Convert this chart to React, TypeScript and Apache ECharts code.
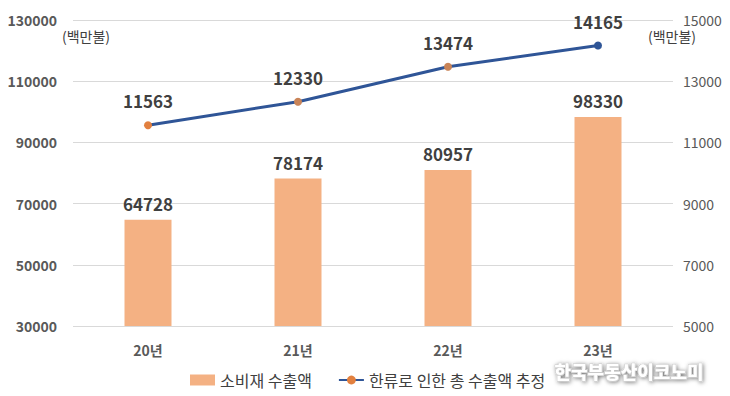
import React, { useEffect, useRef } from "react";
import * as echarts from "echarts";

const categories = ["20년", "21년", "22년", "23년"];
const barValues = [64728, 78174, 80957, 98330];
const lineValues = [11563, 12330, 13474, 14165];
const barName = "소비재 수출액";
const lineName = "한류로 인한 총 수출액 추정";
const unitLabel = "(백만불)";
const watermark = "한국부동산이코노미";

const FONT = "'Noto Sans CJK KR', 'Noto Sans', sans-serif";

export default function App() {
  const ref = useRef<HTMLDivElement>(null);
  useEffect(() => {
    if (!ref.current) return;
    const chart = echarts.init(ref.current, undefined, { renderer: "svg" });
    const markerColors = ["#E2803F", "#C98458", "#C98458", "#2F5597"];
    chart.setOption({
      animation: false,
      backgroundColor: "#FFFFFF",
      textStyle: { fontFamily: FONT },
      grid: { left: 73, right: 57, top: 20, bottom: 70 },
      legend: {
        bottom: 3,
        left: 185,
        itemGap: 26,
        itemWidth: 25,
        itemHeight: 11,
        textStyle: { fontSize: 16, color: "#404040", fontFamily: FONT },
        data: [
          { name: barName, icon: "rect" },
          { name: lineName },
        ],
      },
      xAxis: {
        type: "category",
        data: categories,
        axisLine: { show: false },
        axisTick: { show: false },
        axisLabel: { fontSize: 14, fontWeight: "bold", color: "#595959", margin: 17, fontFamily: FONT },
      },
      yAxis: [
        {
          type: "value",
          min: 30000,
          max: 130000,
          interval: 20000,
          axisLine: { show: false },
          axisTick: { show: false },
          splitLine: { lineStyle: { color: "#D9D9D9", width: 1 } },
          axisLabel: {
            fontSize: 14,
            fontWeight: "bold",
            color: "#595959",
            margin: 16,
            fontFamily: FONT,
            formatter: (v: number) => String(v),
          },
        },
        {
          type: "value",
          min: 5000,
          max: 15000,
          interval: 2000,
          axisLine: { show: false },
          axisTick: { show: false },
          splitLine: { show: false },
          axisLabel: {
            fontSize: 14,
            color: "#595959",
            margin: 10,
            fontFamily: FONT,
            formatter: (v: number) => String(v),
          },
        },
      ],
      series: [
        {
          name: barName,
          type: "bar",
          data: barValues,
          barWidth: 47,
          itemStyle: { color: "#F4B183" },
          label: {
            show: true,
            position: "top",
            distance: 8,
            fontSize: 17,
            fontWeight: "bold",
            color: "#404040",
            fontFamily: FONT,
          },
        },
        {
          name: lineName,
          type: "line",
          yAxisIndex: 1,
          data: lineValues.map((v, i) => ({ value: v, itemStyle: { color: markerColors[i] } })),
          symbol: "circle",
          symbolSize: 8,
          itemStyle: { color: "#E2803F" },
          lineStyle: { color: "#2F5597", width: 3 },
          label: {
            show: true,
            position: "top",
            distance: 12,
            fontSize: 17,
            fontWeight: "bold",
            color: "#404040",
            fontFamily: FONT,
          },
        },
      ],
      graphic: [
        {
          type: "text",
          left: 62,
          top: 29,
          style: { text: unitLabel, fontSize: 14, fill: "#404040", fontFamily: FONT },
        },
        {
          type: "text",
          left: 648,
          top: 29,
          style: { text: unitLabel, fontSize: 14, fill: "#404040", fontFamily: FONT },
        },
        {
          type: "text",
          left: 554,
          top: 361,
          style: {
            text: watermark,
            fontSize: 18,
            fontWeight: 900,
            fill: "#FFFFFF",
            stroke: "#C8C8C8",
            lineWidth: 1,
            textShadowColor: "rgba(0,0,0,0.55)",
            textShadowBlur: 4,
            textShadowOffsetX: 1,
            textShadowOffsetY: 1,
            fontFamily: FONT,
          },
        },
      ],
    });
    return () => chart.dispose();
  }, []);
  return (
    <div
      ref={ref}
      style={{ position: "fixed", left: 0, top: 0, width: 730, height: 396 }}
    />
  );
}
